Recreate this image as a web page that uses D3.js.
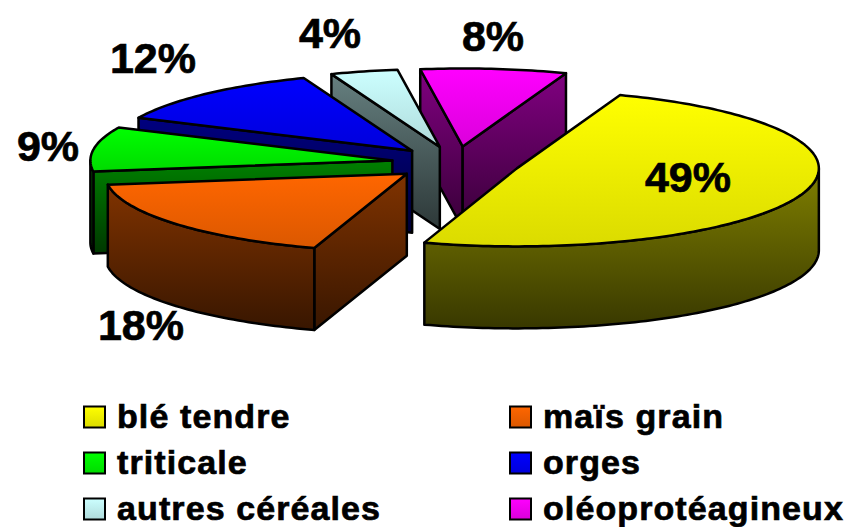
<!DOCTYPE html>
<html>
<head>
<meta charset="utf-8">
<script src="https://cdn.jsdelivr.net/npm/d3@7"></script>
<style>
	html, body { margin: 0; padding: 0; background: #fff; }
	svg { display: block; }
	text { font-family: "Liberation Sans", Arial, sans-serif; font-weight: bold; fill: #000; stroke: #000; stroke-width: 0.7px; }
</style>
</head>
<body>
<div id="chart"></div>
<script>
const categories = ['blé tendre', 'maïs grain', 'triticale', 'orges', 'autres céréales', 'oléoprotéagineux'];
const values = [49.4, 17.8, 9.2, 12.2, 3.6, 7.8];
const colors = ['#ffff00', '#ff6600', '#00ff00', '#0000ff', '#ccffff', '#ff00ff'];

// layout, in px
const width = 851;
const height = 527;
const radiusX = 302;
const radiusY = 78;
const centerX = 456;
const centerY = 163;
const depth = 82;
const explode = 0.213;
const startAngle = 20 * Math.PI / 180;
const labelPos = [[688, 177], [141, 325], [48, 146], [153, 58], [330, 33], [493, 36]];
const legendCols = [84, 510];
const legendRows = [417, 463, 509];
const swatch = 21;
const drawOrder = [5, 4, 3, 2, 1, 0]; // back to front

const x = d3.scaleLinear().domain([-1, 1]).range([centerX - radiusX, centerX + radiusX]);
const y = d3.scaleLinear().domain([-1, 1]).range([centerY - radiusY, centerY + radiusY]);

const svg = d3.select('#chart')
	.append('svg')
	.attr('width', width)
	.attr('height', height);
const defs = svg.append('defs');

function shade(c, f) {
	const r = d3.rgb(c);
	return d3.rgb(r.r * f, r.g * f, r.b * f).formatHex();
}

function gradient(id, top, bottom) {
	const g = defs.append('linearGradient')
		.attr('id', id)
		.attr('x1', 0).attr('y1', 0)
		.attr('x2', 0).attr('y2', 1);
	g.append('stop').attr('offset', '0%').attr('stop-color', top);
	g.append('stop').attr('offset', '100%').attr('stop-color', bottom);
}

colors.forEach(function (c, i) {
	gradient('top' + i, c, shade(c, 0.86));
	gradient('wall' + i, shade(c, 0.5), shade(c, 0.22));
});

const pie = d3.pie()
	.sort(null)
	.startAngle(startAngle)
	.endAngle(startAngle + 2 * Math.PI);
const slices = pie(values);

const line = d3.line().x(d => d[0]).y(d => d[1]);

function rimPoints(s, a0, a1, dy) {
	const mid = (s.startAngle + s.endAngle) / 2;
	const ox = explode * Math.sin(mid);
	const oy = -explode * Math.cos(mid);
	const n = Math.max(2, Math.ceil(Math.abs(a1 - a0) / 0.02));
	return d3.range(n + 1).map(function (i) {
		const a = a0 + (a1 - a0) * i / n;
		return [x(ox + Math.sin(a)), y(oy - Math.cos(a)) + dy];
	});
}

function apex(s) {
	const mid = (s.startAngle + s.endAngle) / 2;
	return [x(explode * Math.sin(mid)), y(-explode * Math.cos(mid))];
}

function drawFace(points, fill) {
	svg.append('path')
		.attr('d', line(points) + 'Z')
		.attr('fill', fill)
		.attr('stroke', '#000')
		.attr('stroke-width', 2.5)
		.attr('stroke-linejoin', 'round');
}

function radialWall(s, a, i) {
	const c = apex(s);
	const p = rimPoints(s, a, a, 0)[0];
	drawFace([c, p, [p[0], p[1] + depth], [c[0], c[1] + depth]], 'url(#wall' + i + ')');
}

drawOrder.forEach(function (i) {
	const s = slices[i];
	// radial sides, only the ones turned to the viewer
	if (Math.sin(s.startAngle) < 0) radialWall(s, s.startAngle, i);
	if (Math.sin(s.endAngle) > 0) radialWall(s, s.endAngle, i);
	// outer side, the front half of the ellipse
	const a0 = Math.max(s.startAngle, Math.PI / 2);
	const a1 = Math.min(s.endAngle, 3 * Math.PI / 2);
	if (a1 > a0) {
		drawFace(rimPoints(s, a0, a1, 0).concat(rimPoints(s, a1, a0, depth)), 'url(#wall' + i + ')');
	}
	drawFace([apex(s)].concat(rimPoints(s, s.startAngle, s.endAngle, 0)), 'url(#top' + i + ')');
});

svg.selectAll('text.pct')
	.data(values)
	.enter()
	.append('text')
	.attr('class', 'pct')
	.attr('x', (d, i) => labelPos[i][0])
	.attr('y', (d, i) => labelPos[i][1])
	.attr('text-anchor', 'middle')
	.attr('dy', '.35em')
	.style('font-size', '43px')
	.text(d => Math.round(d) + '%');

const legend = svg.selectAll('g.legend')
	.data(categories)
	.enter()
	.append('g')
	.attr('class', 'legend')
	.attr('transform', (d, i) => 'translate(' + legendCols[i % 2] + ',' + legendRows[Math.floor(i / 2)] + ')');
legend.append('rect')
	.attr('x', 0)
	.attr('y', -swatch / 2)
	.attr('width', swatch)
	.attr('height', swatch)
	.attr('fill', (d, i) => 'url(#top' + i + ')')
	.attr('stroke', '#000')
	.attr('stroke-width', 2);
legend.append('text')
	.attr('x', 33)
	.attr('y', 0)
	.attr('dy', '.31em')
	.style('font-size', '34px')
	.style('letter-spacing', '1.1px')
	.text(d => d);
</script>
</body>
</html>
